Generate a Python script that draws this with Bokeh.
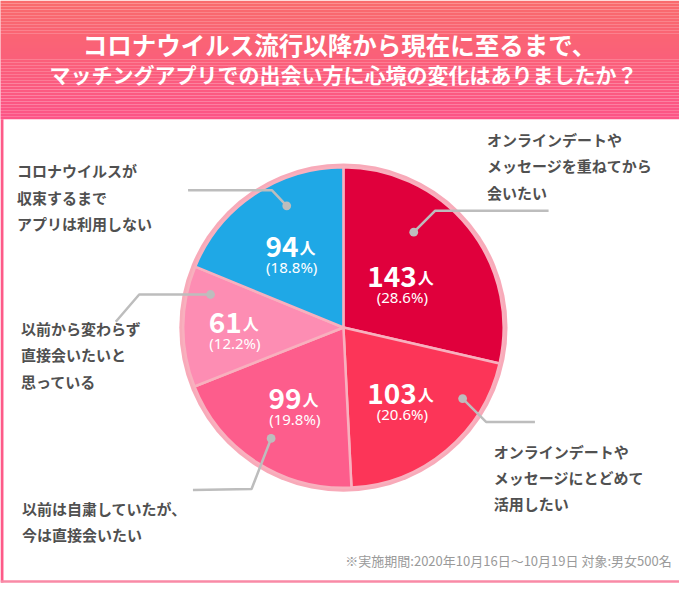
import numpy as np
from bokeh.plotting import figure
from bokeh.models import Range1d
from bokeh.core.properties import value
from bokeh.embed import file_html
from bokeh.resources import INLINE

# ---------------- data ----------------
title_lines = ["コロナウイルス流行以降から現在に至るまで、",
               "マッチングアプリでの出会い方に心境の変化はありましたか？"]
categories = [
    ["オンラインデートや", "メッセージを重ねてから", "会いたい"],
    ["オンラインデートや", "メッセージにとどめて", "活用したい"],
    ["以前は自粛していたが、", "今は直接会いたい"],
    ["以前から変わらず", "直接会いたいと", "思っている"],
    ["コロナウイルスが", "収束するまで", "アプリは利用しない"],
]
counts = [143, 103, 99, 61, 94]
total = 500
unit = "人"
footnote = "※実施期間:2020年10月16日〜10月19日 対象:男女500名"

# ---------------- style / layout ----------------
colors = ["#e0003c", "#fc3558", "#fd5d8c", "#fd8db3", "#1fa8e6"]
FONT = value("Noto Sans CJK JP")
PFONT = value("Noto Sans")
W, H = 679, 583              # figure size in screen px
RW, RH = 695, 599            # design space (reference px)
cx, cy = 351, 336            # pie centre
R_RING, R_PIE = 168, 164
label_r = [77, 94, 92, 111, 95]
label_pos = [(498, 143), (505, 463), (22, 522), (21, 337), (17, 175)]
line_gap = 27
# leader: (angle from top clockwise deg, radius, path offsets)
leaders = [
    (36.3, 121.6, [(22, -22), (138, -22)]),
    (120.9, 142.2, [(24, 24), (74, 24)]),
    (213.0, 135.9, [(-20, 52), (-80, 53)]),
    (284.0, 140.2, [(-73, 0), (-97, 28)]),
    (335.1, 137.8, [(-15, -16), (-101, -16)]),
]

p = figure(width=W, height=H, output_backend="svg", toolbar_location=None,
           x_range=Range1d(0, RW), y_range=Range1d(-RH, 0),
           x_axis_type=None, y_axis_type=None, min_border=0,
           background_fill_color="white", border_fill_color="white")
p.outline_line_color = None
p.grid.visible = False

def Y(y):
    return -np.asarray(y, dtype=float)

# header gradient
top_c = np.array([0xf9, 0x6b, 0x6d])
bot_c = np.array([0xfd, 0x55, 0x87])
n = 40
edges = np.linspace(0, 122, n + 1)
cols = []
for i in range(n):
    t = i / (n - 1)
    c = (top_c * (1 - t) + bot_c * t).astype(int)
    cols.append("#%02x%02x%02x" % tuple(c))
p.quad(left=-5, right=RW + 5, top=Y(edges[:-1]), bottom=Y(edges[1:]), fill_color=cols, line_color=None)

# frame
p.line(x=[1.5, 1.5], y=Y([122, 598]), line_color="#fd5a88", line_width=3)
p.line(x=[0, RW], y=Y([597, 597]), line_color="#f98aa6", line_width=2.5)

# title
p.text(x=[347], y=Y([45]), text=[title_lines[0]], text_font=FONT, text_font_size="24.5px",
       text_font_style="bold", text_color="white", text_align="center", text_baseline="middle")
p.text(x=[351], y=Y([76]), text=[title_lines[1]], text_font=FONT, text_font_size="21px",
       text_font_style="bold", text_color="white", text_align="center", text_baseline="middle")

# pie
cum = np.concatenate([[0], np.cumsum(counts)])
start = np.pi / 2 - 2 * np.pi * cum[:-1] / total
end = np.pi / 2 - 2 * np.pi * cum[1:] / total
p.circle(x=[cx], y=Y([cy]), radius=R_RING, fill_color="#f8aab9", line_color=None)
p.wedge(x=cx, y=-cy, radius=R_PIE, start_angle=start, end_angle=end, direction="clock",
        fill_color=colors, line_color="#f8b0be", line_width=2.5)

# value labels
mid = 2 * np.pi * (cum[:-1] + np.array(counts) / 2) / total
for k, c in enumerate(counts):
    lx = cx + label_r[k] * np.sin(mid[k])
    ly = cy - label_r[k] * np.cos(mid[k])
    nd = len(str(c))
    off = (nd * 15.5 - 17) / 2
    p.text(x=[lx + off], y=Y([ly - 4]), text=[str(c)], text_font=FONT, text_font_size="28px",
           text_font_style="bold", text_color="white", text_align="right", text_baseline="alphabetic")
    p.text(x=[lx + off + 1], y=Y([ly - 4]), text=[unit], text_font=FONT, text_font_size="16px",
           text_font_style="bold", text_color="white", text_align="left", text_baseline="alphabetic")
    p.text(x=[lx], y=Y([ly + 17]), text=["(%.1f%%)" % (100 * c / total)], text_font=PFONT,
           text_font_size="15px", text_color="white", text_align="center", text_baseline="alphabetic")

# leaders
for ang, r, path in leaders:
    a = np.deg2rad(ang)
    dx, dy = cx + r * np.sin(a), cy - r * np.cos(a)
    xs = [dx] + [dx + o[0] for o in path]
    ys = [dy] + [dy + o[1] for o in path]
    p.line(x=xs, y=Y(ys), line_color="#bdbdbd", line_width=2.5)
    p.circle(x=[dx], y=Y([dy]), radius=4.5, fill_color="#bdbdbd", line_color=None)

# category labels
for k, lines in enumerate(categories):
    x0, y0 = label_pos[k]
    for j, t in enumerate(lines):
        p.text(x=[x0], y=Y([y0 + j * line_gap]), text=[t], text_font=FONT, text_font_size="15px",
               text_font_style="bold", text_color="#505050", text_align="left", text_baseline="middle")

# footnote
p.text(x=[687], y=Y([575]), text=[footnote], text_font=FONT, text_font_size="13px",
       text_color="#9a9a9a", text_align="right", text_baseline="middle")

open("out.html", "w").write(file_html(p, INLINE))
